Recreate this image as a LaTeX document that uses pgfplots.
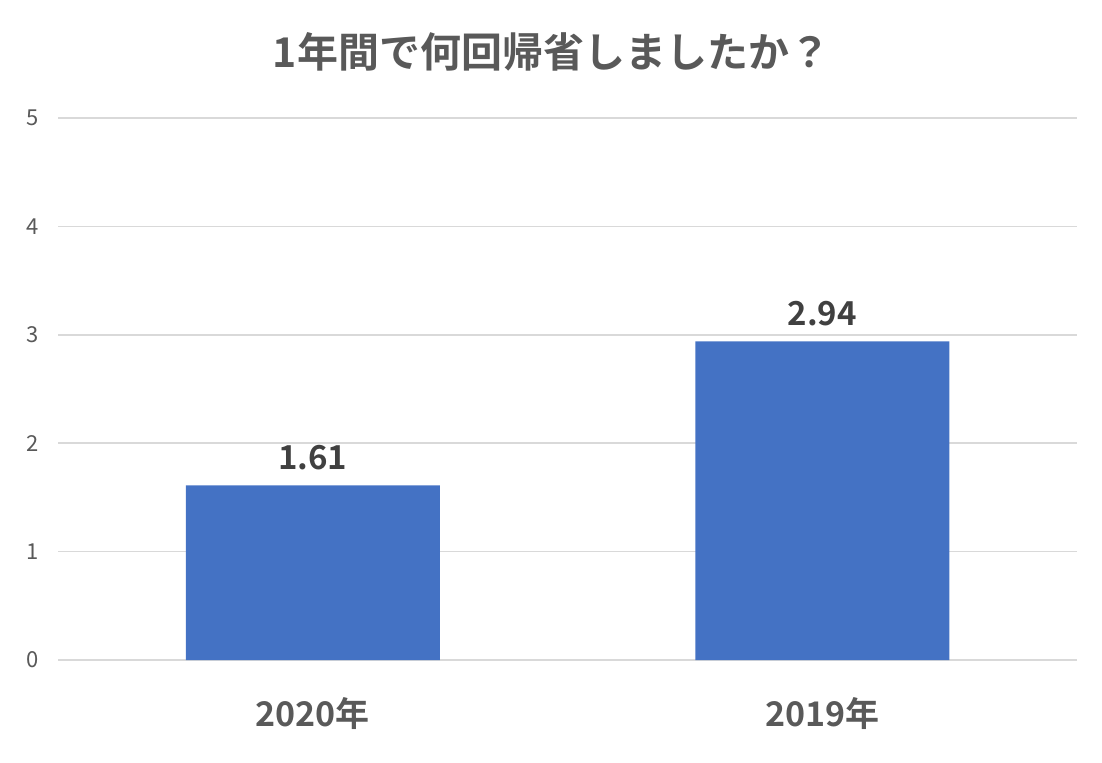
\documentclass[border=0pt]{standalone}
\usepackage{pgfplots}
\pgfplotsset{compat=1.18}
\usepackage{fontspec}
\setmainfont{Noto Sans CJK JP}[BoldFont={* Bold}]
\definecolor{barblue}{HTML}{4472C4}
\definecolor{txtgray}{HTML}{595959}
\definecolor{lblgray}{HTML}{404040}
\definecolor{gridgray}{HTML}{D9D9D9}
\begin{document}
\begin{tikzpicture}
\begin{axis}[
  at={(0,0)}, anchor=south west,
  scale only axis, width=509.5pt, height=271pt,
  xmin=-0.5, xmax=1.5, ymin=0, ymax=5,
  xtick=data, xticklabels={2020年,2019年},
  ytick={0,1,2,3,4,5},
  axis line style={draw=none},
  major tick length=0pt,
  ymajorgrids, grid style={gridgray, line width=0.8pt},
  /pgf/number format/assume math mode=true,
  yticklabel style={font=\fontsize{11}{13}\selectfont, text=txtgray, xshift=-6pt},
  xticklabel style={font=\fontsize{17}{20}\selectfont\bfseries, text=txtgray, yshift=-15pt},
  ybar, bar width=127pt,
  nodes near coords,
  every node near coord/.append style={font=\fontsize{16.5}{19}\selectfont\bfseries, text=lblgray, yshift=4pt},
  nodes near coords style={/pgf/number format/.cd, fixed, precision=2, fixed zerofill},
  clip=false,
]
\addplot[fill=barblue, draw=none] coordinates {(0,1.61) (1,2.94)};
\node[font=\fontsize{20.5}{24}\selectfont\bfseries, text=txtgray] at (rel axis cs:0.5,1) [yshift=33pt, xshift=-8pt] {1年間で何回帰省しましたか？};
\end{axis}
\useasboundingbox (-29pt,-51pt) rectangle (522pt,330pt);
\end{tikzpicture}
\end{document}
